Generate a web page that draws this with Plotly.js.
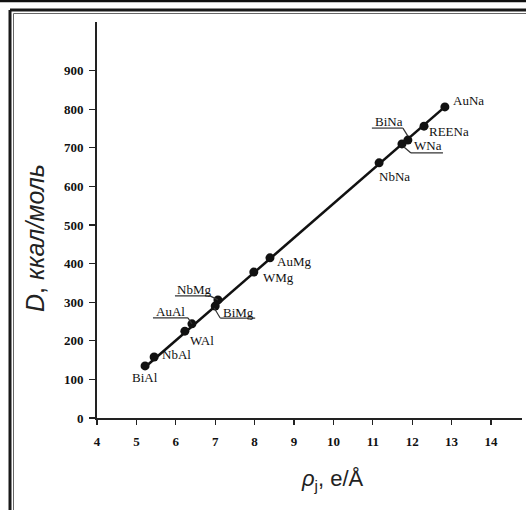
<!DOCTYPE html>
<html>
<head>
<meta charset="utf-8">
<script src="https://cdn.plot.ly/plotly-3.0.1.min.js"></script>
<style>html,body{margin:0;padding:0;background:#fff;}#chart{width:526px;height:510px;}</style>
</head>
<body>
<div id="chart"></div>
<script>
// ---- data ----
const compounds = ["BiAl","NbAl","WAl","AuAl","BiMg","NbMg","WMg","AuMg","NbNa","WNa","BiNa","REENa","AuNa"];
const rhoValues = [5.22, 5.45, 6.23, 6.41, 7.00, 7.07, 7.98, 8.39, 11.16, 11.74, 11.89, 12.30, 12.83];
const dValues   = [135, 158, 225, 244, 290, 306, 378, 415, 661, 710, 720, 756, 806];
const fitRho = [5.18, 12.85];
const fitD   = [128, 808];
const xTickVals = [4,5,6,7,8,9,10,11,12,13,14];
const yTickVals = [0,100,200,300,400,500,600,700,800,900];
const xTitle = "<i>ρ</i><sub>j</sub>, e/Å";
const yTitle = "<i>D</i>, <i>ккал/моль</i>";

// ---- label placement (pixel offsets from each point), style only ----
const labelStyle = {
  BiAl:  {dx:-15, dy:12, anchor:"left"},
  NbAl:  {dx:6,  dy:-3, anchor:"left"},
  WAl:   {dx:3,  dy:9,  anchor:"left"},
  AuAl:  {dx:-38,dy:-12,anchor:"left", under:[-39,-4,-6], lead:[-4,-6,0,0]},
  BiMg:  {dx:6,  dy:6,  anchor:"left", under:[5,40,12], lead:[5,12,-1,2]},
  NbMg:  {dx:-43,dy:-10,anchor:"left", under:[-43,-8,-4], lead:[-8,-4,0,0]},
  WMg:   {dx:7,  dy:5,  anchor:"left"},
  AuMg:  {dx:5,  dy:4,  anchor:"left"},
  NbNa:  {dx:-2, dy:14, anchor:"left"},
  WNa:   {dx:10, dy:2,  anchor:"left", under:[9,41,9], lead:[9,9,2,3]},
  BiNa:  {dx:-35,dy:-19,anchor:"left", under:[-36,-5,-12], lead:[-5,-12,0,-4]},
  REENa: {dx:3,  dy:5,  anchor:"left"},
  AuNa:  {dx:6,  dy:-6, anchor:"left"}
};

const ML = 97, MR = 4, MT = 22, MB = 92, W = 526, H = 510;
const PW = W - ML - MR, PH = H - MT - MB;
const px2paperX = p => (p - ML) / PW;
const px2paperY = p => (H - MB - p) / PH;

const lineTrace = {
  x: fitRho, y: fitD, mode: "lines", type: "scatter",
  line: {color: "#111", width: 2.6}, hoverinfo: "skip", showlegend: false
};
const pointTrace = {
  x: rhoValues, y: dValues, mode: "markers", type: "scatter",
  text: compounds, marker: {color: "#111", size: 9}, showlegend: false
};

const serif = "Liberation Serif, Times New Roman, serif";
const sans = "Liberation Sans, Arial, sans-serif";

const annotations = [];
const shapes = [];
compounds.forEach((name, i) => {
  const s = labelStyle[name];
  annotations.push({
    x: rhoValues[i], y: dValues[i], xref: "x", yref: "y",
    text: name, showarrow: false, xanchor: s.anchor, yanchor: "middle",
    xshift: s.dx, yshift: -s.dy,
    font: {family: serif, size: 13, color: "#111"}
  });
  if (s.under) {
    shapes.push({type: "line", xref: "x", yref: "y", xsizemode: "pixel", ysizemode: "pixel",
      xanchor: rhoValues[i], yanchor: dValues[i],
      x0: s.under[0], x1: s.under[1], y0: -s.under[2], y1: -s.under[2],
      line: {color: "#333", width: 1.2}});
    shapes.push({type: "line", xref: "x", yref: "y", xsizemode: "pixel", ysizemode: "pixel",
      xanchor: rhoValues[i], yanchor: dValues[i],
      x0: s.lead[0], y0: -s.lead[1], x1: s.lead[2], y1: -s.lead[3],
      line: {color: "#333", width: 1.2}});
  }
});

// axis titles placed as annotations
annotations.push({
  xref: "paper", yref: "paper", x: px2paperX(35), y: px2paperY(238),
  text: yTitle, textangle: -90, showarrow: false, xanchor: "center", yanchor: "middle",
  font: {family: sans, size: 25, color: "#222"}
});
annotations.push({
  xref: "paper", yref: "paper", x: px2paperX(332), y: px2paperY(480),
  text: xTitle, showarrow: false, xanchor: "center", yanchor: "middle",
  font: {family: sans, size: 22, color: "#222"}
});

// page frame
const frame = [
  {x0: px2paperX(0), x1: px2paperX(W), y0: px2paperY(1), y1: px2paperY(1), w: 2.5, c: "#111"},
  {x0: px2paperX(10), x1: px2paperX(W), y0: px2paperY(10), y1: px2paperY(10), w: 3, c: "#1a1a1a"},
  {x0: px2paperX(13.5), x1: px2paperX(W), y0: px2paperY(13.5), y1: px2paperY(13.5), w: 1, c: "#666"},
  {x0: px2paperX(10), x1: px2paperX(10), y0: px2paperY(10), y1: px2paperY(H), w: 3, c: "#1a1a1a"},
  {x0: px2paperX(13.5), x1: px2paperX(13.5), y0: px2paperY(13.5), y1: px2paperY(H), w: 1, c: "#666"}
];
frame.forEach(f => shapes.push({type: "line", xref: "paper", yref: "paper",
  x0: f.x0, x1: f.x1, y0: f.y0, y1: f.y1, line: {color: f.c, width: f.w}, layer: "above"}));

const tickFont = {family: serif, size: 13, color: "#111", weight: "bold"};
const layout = {
  width: W, height: H,
  margin: {l: ML, r: MR, t: MT, b: MB, pad: 0},
  paper_bgcolor: "#fff", plot_bgcolor: "#fff",
  showlegend: false,
  xaxis: {
    range: [4, 4 + PW / 39.4], tickvals: xTickVals, ticks: "outside", ticklen: 5, tickwidth: 1.2,
    tickcolor: "#222", showline: true, linecolor: "#222", linewidth: 2, showgrid: false, zeroline: false,
    tickfont: tickFont, automargin: false, ticklabelstandoff: 5
  },
  yaxis: {
    range: [0, PH / 0.386], tickvals: yTickVals, ticks: "outside", ticklen: 6, tickwidth: 1.2,
    tickcolor: "#222", showline: true, linecolor: "#222", linewidth: 2, showgrid: false, zeroline: false,
    tickfont: tickFont, automargin: false, ticklabelstandoff: 3
  },
  annotations: annotations,
  shapes: shapes
};

Plotly.newPlot("chart", [lineTrace, pointTrace], layout, {displayModeBar: false, staticPlot: true});
</script>
</body>
</html>
